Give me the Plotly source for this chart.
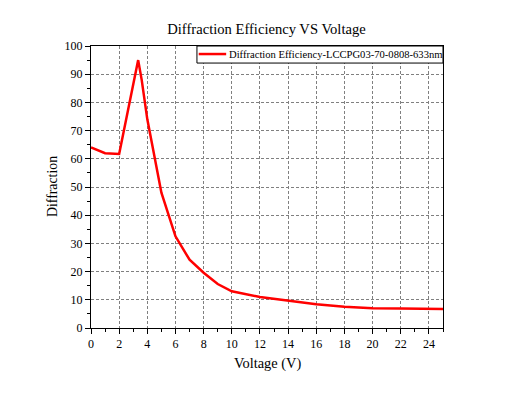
import plotly.graph_objects as go

voltage = [0, 1, 2, 3.35, 3.6, 4, 5, 6, 7, 8, 9, 10, 12, 14, 16, 18, 20, 22, 25]
efficiency = [64.0, 62.0, 61.7, 95.0, 88.0, 74.0, 48.0, 32.5, 24.2, 19.6, 15.6, 13.0, 11.0, 9.8, 8.4, 7.5, 7.0, 6.9, 6.7]
series_name = "Diffraction Efficiency-LCCPG03-70-0808-633nm"
title_text = "Diffraction Efficiency VS Voltage"
x_title = "Voltage (V)"
y_title = "Diffraction"

font = "Liberation Serif"
red = "#ff0000"

fig = go.Figure()
fig.add_trace(go.Scatter(x=voltage, y=efficiency, mode="lines", name=series_name,
                         line=dict(color=red, width=2.5), showlegend=False))

axis_common = dict(
    showline=True, linecolor="black", linewidth=1, mirror=True,
    ticks="outside", ticklen=5, tickcolor="black", tickwidth=1,
    showgrid=True, gridcolor="#808080", gridwidth=1, griddash="3px,2px",
    zeroline=False, automargin=False,
    tickfont=dict(family=font, size=12, color="black"),
)

# page body has an 8px margin in the browser; compensate
fig.update_layout(
    width=517, height=395,
    margin=dict(l=83, r=82, t=38, b=75),
    paper_bgcolor="white", plot_bgcolor="white",
    title=dict(text=title_text, x=0.5, xanchor="center",
               y=1 - 21 / 395, yanchor="middle", automargin=False,
               font=dict(family=font, size=14.6, color="black")),
    xaxis=dict(range=[0, 25], dtick=2, tick0=0,
               minor=dict(dtick=1, ticks="outside", ticklen=3, tickcolor="black", showgrid=False),
               **axis_common),
    yaxis=dict(range=[0, 100], dtick=10, tick0=0,
               minor=dict(dtick=5, ticks="outside", ticklen=3, tickcolor="black", showgrid=False),
               **axis_common),
    showlegend=False,
)

# axis titles
fig.add_annotation(text=x_title, xref="paper", yref="paper", x=0.5, y=0,
                   xanchor="center", yanchor="middle", yshift=-35, showarrow=False,
                   font=dict(family=font, size=14.4, color="black"))
fig.add_annotation(text=y_title, xref="paper", yref="paper", x=0, y=0.5,
                   xanchor="center", yanchor="middle", xshift=-39, textangle=-90, showarrow=False,
                   font=dict(family=font, size=13.8, color="black"))

# legend box (top-right inside plot)
lx0, lx1, ly0, ly1 = 0.301, 1.0, 0.9395, 1.0
fig.add_shape(type="rect", xref="paper", yref="paper", x0=lx0, x1=lx1, y0=ly0, y1=ly1,
              line=dict(color="black", width=1), fillcolor="white", layer="above")
fig.add_shape(type="line", xref="paper", yref="paper", x0=0.306, x1=0.384, y0=0.9715, y1=0.9715,
              line=dict(color=red, width=2.5), layer="above")
fig.add_annotation(text=series_name, xref="paper", yref="paper", x=0.385, y=0.9705,
                   xanchor="left", yanchor="middle", showarrow=False,
                   font=dict(family=font, size=10.6, color="black"))

fig.write_html("out.html")
